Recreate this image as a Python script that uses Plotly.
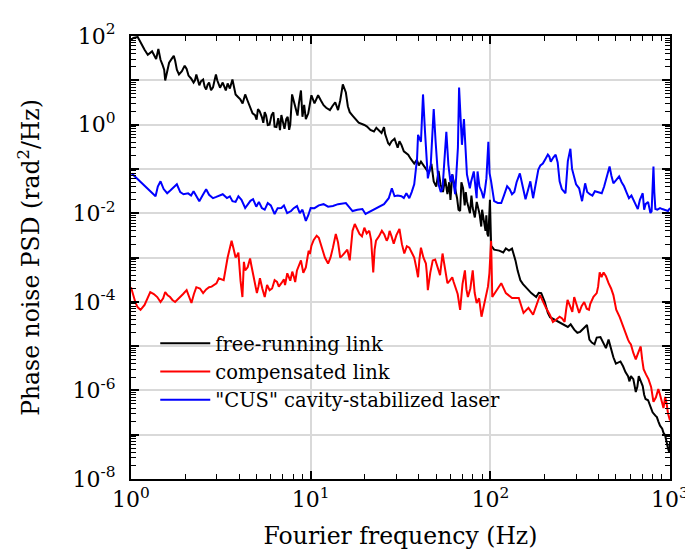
import plotly.graph_objects as go

# ---------------- data ----------------
# free-running link (main trace points + extra noise detail points)
free_f = [1.0, 1.09, 1.19, 1.24, 1.28, 1.35, 1.42, 1.46, 1.53, 1.55, 1.63, 1.73, 1.80, 1.85, 1.99,
          2.09, 2.23, 2.31, 2.40, 2.52, 2.62, 2.72, 2.86, 2.97, 3.08, 3.24, 3.37, 3.67, 3.82, 4.06,
          4.32, 4.60, 4.90, 5.09, 5.35, 5.55, 5.77, 6.06, 6.45, 6.87, 7.31, 7.59, 7.88, 8.28, 8.83,
          9.40, 10.0, 10.1, 11.0, 11.8, 12.8, 13.7, 14.2, 15.1, 15.7, 16.5, 17.8, 19.9, 21.5, 24.0,
          25.6, 26.5, 27.5, 29.3, 32.0, 34.9, 37.7, 41.1, 43.8, 48.4, 52.8, 57.7, 61.4, 65.3, 67.9,
          70.5, 74.1, 79.8, 87.1, 92.7, 96.3, 98.8, 101, 112, 127, 132, 138, 147, 159, 169,
          180, 192, 201, 209, 229, 259, 293, 316, 345, 367, 391, 427, 455, 484, 515,
          548, 584, 606, 645, 670, 705, 731, 778, 829, 861, 905, 940, 975, 1000]
free_psd = [81, 95, 48.7, 37.7, 41.8, 35.8, 51, 29.1, 17.4, 9.9, 25, 35.8, 17.4, 13.5, 21.4,
            12.8, 8.9, 13.5, 7.7, 10.4, 6.2, 8.9, 6.9, 13.5, 7.7, 8.9, 5.9, 10.4, 4.8, 3.7,
            4.8, 2.5, 1.64, 2.23, 1.48, 1.91, 0.98, 1.64, 0.88, 1.64, 1.33, 0.76, 4.8, 2.23, 5.9,
            1.33, 3.7, 4.6, 4.6, 2.74, 2.12, 3.19, 2.12, 8.05, 5.3, 1.91, 1.33, 0.98, 0.76, 0.76,
            0.88, 0.48, 0.35, 0.48, 0.35, 0.21, 0.132, 0.146, 0.102, 0.052, 0.045, 0.027, 0.075, 0.0218, 0.0112,
            0.0365, 0.0187, 0.0131, 0.0096, 0.0057, 0.0034, 0.0145, 0.00185, 0.00143, 0.00143, 0.00159, 0.00086, 3.07e-4, 2.03e-4, 1.57e-4,
            1.28e-4, 1.57e-4, 9.9e-5, 5.6e-5, 3.9e-5, 3.0e-5, 2.35e-5, 2.1e-5, 3.0e-5, 1.2e-5, 1.56e-5, 1.2e-5, 1.4e-5, 5.6e-6, 4.3e-6,
            3.5e-6, 2.1e-6, 2.1e-6, 9.2e-7, 2.1e-6, 1.25e-6, 6.4e-7, 4.3e-7, 2.7e-7, 2.0e-7, 1.37e-7, 9.6e-8, 4.9e-8, 7.0e-8]
free_detail_f = [1.03, 1.15, 1.31, 1.38, 1.50, 1.68, 1.76, 1.92, 2.04, 2.16, 2.27, 2.45, 2.57, 2.67, 2.79,
                 2.91, 3.02, 3.13, 3.30, 3.45, 3.55, 3.75, 3.94, 4.18, 4.45, 4.75, 5.0, 5.2, 5.45, 5.65,
                 5.90, 6.2, 6.3, 6.6, 6.75, 7.0, 7.15, 7.45, 7.7, 8.05, 8.45, 8.6, 9.0, 9.2, 9.7,
                 10.5, 11.4, 12.2, 13.2, 14.6, 16.1, 17.1, 18.5, 20.6, 22.5, 23.2, 24.8, 26.0, 27.0, 28.2,
                 30.5, 31.2, 33.0, 36.0, 39.0, 40.0, 45.5, 47, 50, 51.5, 54.5, 56, 59, 60, 63,
                 66.5, 69, 72, 73, 77, 78.5, 82, 84, 89, 90, 94, 95, 97.5, 99.5,
                 105, 118, 122, 142, 152, 164, 175, 186, 215, 240, 270, 280, 305, 330, 356,
                 380, 410, 440, 470, 500, 530, 565, 595, 625, 658, 690, 718, 755, 800, 845,
                 880, 920, 958, 990]
free_detail_psd = [90, 60, 45, 30, 22, 30, 28, 16, 18, 11, 10, 9.5, 7.2, 8.0, 6.0,
                   9.5, 10, 6.8, 7.0, 8.5, 6.5, 7.0, 4.2, 3.0, 3.5, 1.8, 1.3, 2.0, 1.1, 1.6,
                   1.0, 1.9, 0.9, 1.4, 0.75, 1.1, 0.8, 1.5, 1.0, 3.5, 1.6, 3.0, 1.5, 2.8, 1.8,
                   3.0, 3.5, 2.4, 2.6, 3.5, 2.6, 1.6, 1.1, 0.9, 0.7, 0.85, 0.65, 0.6, 0.38, 0.42,
                   0.3, 0.42, 0.25, 0.17, 0.16, 0.12, 0.08, 0.13, 0.04, 0.09, 0.03, 0.06, 0.05, 0.02, 0.045,
                   0.012, 0.05, 0.015, 0.03, 0.01, 0.025, 0.008, 0.018, 0.005, 0.012, 0.004, 0.009, 0.003, 0.02,
                   0.0015, 0.0013, 0.0016, 5e-4, 2.5e-4, 1.8e-4, 1.4e-4, 1.6e-4, 4.5e-5, 3.5e-5, 2.7e-5, 3.1e-5, 2.0e-5, 2.5e-5, 1.4e-5,
                   1.1e-5, 1.6e-5, 9e-6, 8e-6, 4e-6, 4.5e-6, 2.6e-6, 1.6e-6, 1.8e-6, 1.2e-6, 1.6e-6, 8e-7, 6e-7, 3.2e-7, 2.5e-7,
                   1.6e-7, 1.1e-7, 6e-8, 4e-8]

# compensated link
comp_f = [1.0, 1.06, 1.13, 1.19, 1.28, 1.40, 1.46, 1.55, 1.65, 1.76, 1.87, 2.04, 2.17, 2.31, 2.52,
          2.72, 2.90, 3.08, 3.28, 3.45, 3.63, 3.82, 3.96, 4.17, 4.32, 4.60, 4.78, 5.02, 5.22, 5.55,
          5.91, 6.30, 6.87, 7.41, 8.08, 8.39, 8.83, 9.40, 9.75, 10.1, 10.8, 11.5, 12.5, 13.3, 13.8,
          14.6, 15.5, 16.5, 17.6, 18.7, 19.9, 21.2, 22.3, 23.1, 24.9, 26.5, 27.5, 29.0, 31.2, 33.2,
          35.4, 37.7, 39.6, 41.1, 43.8, 44.9, 47.8, 50.9, 54.2, 57.7, 61.4, 63.7, 67.9, 72.2, 75.0,
          79.8, 83.9, 89.3, 95.1, 98.8, 101, 102.5, 108, 115, 122, 132, 144, 153, 163, 173,
          189, 204, 223, 243, 259, 269, 286, 293, 312, 333, 354, 367, 391, 406, 427,
          455, 484, 502, 548, 584, 606, 645, 687, 713, 759, 809, 861, 905, 940, 975, 1000]
comp_psd = [2.14e-4, 9.4e-5, 6.6e-5, 8.5e-5, 1.66e-4, 1.28e-4, 9.9e-5, 1.66e-4, 1.28e-4, 9.9e-5, 1.28e-4, 1.83e-4, 9.4e-5, 2.14e-4, 1.57e-4,
            2.14e-4, 2.37e-4, 3.4e-4, 3.07e-4, 1.0e-3, 2.39e-3, 1.0e-3, 1.29e-3, 1.28e-4, 5.1e-4, 9.5e-4, 4.4e-4, 1.57e-4, 3.4e-4, 1.28e-4,
            1.83e-4, 3.07e-4, 2.63e-4, 4.4e-4, 3.58e-4, 5.1e-4, 8.6e-4, 6.0e-4, 1.43e-3, 1.85e-3, 3.1e-3, 1.67e-3, 7.3e-4, 1.67e-3, 3.4e-3,
            1.0e-3, 1.29e-3, 8.6e-4, 5.7e-3, 3.4e-3, 4.7e-3, 4.0e-3, 4.6e-4, 2.39e-3, 4.0e-3, 2.39e-3, 4.0e-3, 2.05e-3, 4.4e-3, 1.23e-3,
            1.67e-3, 1.0e-3, 3.58e-4, 1.67e-3, 7.3e-4, 1.83e-4, 8.6e-4, 6.0e-4, 1.23e-3, 2.63e-4, 3.58e-4, 2.14e-4, 6.6e-5, 5.1e-4, 1.28e-4,
            5.1e-4, 9.4e-5, 4.6e-5, 1.28e-4, 4.4e-4, 2.39e-3, 1.28e-4, 1.83e-4, 2.63e-4, 1.57e-4, 1.22e-4, 1.22e-4, 5.6e-5, 7.3e-5, 5.1e-5,
            1.42e-4, 7.3e-5, 3.5e-5, 4.6e-5, 3.5e-5, 1.1e-4, 5.9e-5, 1.28e-4, 5.6e-5, 9.9e-5, 6.6e-5, 1.1e-4, 1.57e-4, 4.6e-4, 4.6e-4,
            2.63e-4, 1.42e-4, 6.6e-5, 2.74e-5, 1.4e-5, 1.09e-5, 5.0e-6, 9.8e-6, 3.0e-6, 1.8e-6, 5.5e-7, 1.07e-6, 5.5e-7, 7.1e-7, 3.0e-7, 2.1e-7]
comp_detail_f = [1.09, 1.23, 1.34, 1.51, 1.60, 1.70, 1.81, 1.95, 2.10, 2.24, 2.42, 2.62, 2.81, 2.99, 3.18,
                 3.55, 3.72, 3.89, 4.07, 4.25, 4.46, 4.68, 4.90, 5.12, 5.38, 5.72, 6.1, 6.5, 6.65, 7.1,
                 7.2, 7.7, 7.9, 8.2, 8.6, 9.1, 9.6, 9.9,
                 10.4, 11.1, 12.0, 12.9, 14.2, 15.0, 16.0, 17.1, 18.1, 19.3, 20.5, 21.7, 22.7, 24.0, 25.7,
                 27.0, 28.2, 30.0, 32.2, 34.3, 36.5, 38.7, 40.3, 42.4, 44.3, 46.3, 49.3, 52.5, 55.9, 59.5,
                 62.5, 65.8, 70.0, 73.6, 77.4, 81.8, 86.6, 92.0, 97.0, 99.7,
                 196, 214, 233, 251, 264, 278, 300, 322, 344, 360, 375, 398, 416, 440, 470, 493,
                 525, 565, 595, 625, 665, 700, 735, 785, 835, 880, 920, 958, 990]
comp_detail_psd = [7.5e-5, 1.2e-4, 1.5e-4, 1.2e-4, 1.4e-4, 1.1e-4, 1.1e-4, 1.5e-4, 1.3e-4, 1.5e-4, 2.0e-4, 1.9e-4, 2.2e-4, 2.6e-4, 3.2e-4,
                   1.8e-3, 1.6e-3, 1.1e-3, 3.0e-4, 8e-4, 6e-4, 6.5e-4, 2.5e-4, 2.2e-4, 2.0e-4, 2.4e-4, 2.0e-4, 2.8e-4, 2.2e-4, 3.2e-4,
                   2.4e-4, 3.0e-4, 4.8e-4, 2.8e-4, 6.5e-4, 4.5e-4, 1.0e-3, 1.2e-3,
                   2.5e-3, 2.8e-3, 1.0e-3, 1.0e-3, 2.2e-3, 1.1e-3, 1.5e-3, 4.0e-3, 4.5e-3, 3.0e-3, 3.5e-3, 2.5e-3, 1.5e-3, 3.0e-3, 3.3e-3,
                   2.8e-3, 3.0e-3, 3.2e-3, 2.0e-3, 1.8e-3, 1.3e-3, 6e-4, 9e-4, 1.0e-3, 4.5e-4, 4.5e-4, 9e-4, 4e-4, 6e-4, 3.0e-4,
                   2.8e-4, 1.5e-4, 2.5e-4, 1.9e-4, 2.0e-4, 1.6e-4, 1.2e-4, 8e-5, 2.2e-4, 8e-4,
                   1.0e-4, 5.2e-5, 4.0e-5, 4.2e-5, 6.5e-5, 8.0e-5, 9e-5, 8e-5, 7e-5, 9e-5, 1.3e-4, 2.2e-4, 3.6e-4, 3.8e-4, 2.0e-4, 9e-5,
                   4.5e-5, 2.0e-5, 1.2e-5, 7e-6, 7e-6, 5e-6, 2.3e-6, 1.2e-6, 7e-7, 8e-7, 4e-7, 5e-7, 2.5e-7]

# "CUS" cavity-stabilized laser
cus_f = [1.01, 1.13, 1.28, 1.37, 1.46, 1.59, 1.80, 1.96, 2.23, 2.40, 2.62, 2.86, 3.24, 3.67, 3.96,
         4.32, 4.78, 5.35, 5.77, 6.30, 6.87, 7.78, 8.39, 9.40, 10.0, 11.8, 13.3, 15.7, 17.1, 19.4,
         20.2, 22.9, 25.6, 27.2, 28.3, 29.3, 32.0, 34.1, 35.4, 37.7, 39.1, 39.6, 41.1, 42.2, 43.3,
         44.9, 46.6, 48.4, 49.6, 51.5, 54.2, 56.9, 58.4, 61.4, 63.7, 67.0, 69.5, 71.3, 74.1, 76.9,
         80.9, 83.9, 84.9, 89.3, 91.6, 95.1, 97.5, 101, 105, 115, 124, 132, 146, 157, 167,
         173, 185, 196, 209, 217, 231, 243, 262, 279, 293, 312, 324, 337, 358, 382,
         417, 444, 461, 484, 521, 555, 591, 630, 662, 705, 731, 778, 809, 829, 905, 975, 1000]
cus_psd = [0.0789, 0.0524, 0.0313, 0.0242, 0.0524, 0.0282, 0.0449, 0.0268, 0.0313, 0.0187, 0.0347, 0.0218, 0.0268, 0.0187, 0.0242,
           0.0131, 0.0207, 0.0131, 0.0169, 0.0096, 0.0131, 0.0112, 0.0145, 0.0067, 0.0131, 0.016, 0.0145, 0.0169, 0.0112, 0.0124,
           0.0096, 0.0131, 0.016, 0.0218, 0.0365, 0.0242, 0.0242, 0.0282, 0.0218, 0.0449, 0.171, 0.586, 0.409, 4.8, 0.684,
           0.061, 0.125, 2.23, 0.409, 0.0449, 0.0365, 0.684, 0.125, 0.075, 0.0268, 6.9, 0.35, 1.33, 0.075, 0.0365,
           0.0875, 0.0218, 0.0875, 0.0313, 0.0218, 0.061, 0.409, 0.0524, 0.0187, 0.0169, 0.0405, 0.0268, 0.0789, 0.0207, 0.0524,
           0.0218, 0.097, 0.132, 0.21, 0.146, 0.21, 0.0524, 0.0282, 0.285, 0.061, 0.0365, 0.0187, 0.0472, 0.0268, 0.0313,
           0.0282, 0.061, 0.113, 0.0472, 0.0676, 0.0405, 0.0218, 0.0187, 0.0124, 0.0282, 0.016, 0.0101, 0.113, 0.0124, 0.0124, 0.0112, 0.0131]
cus_detail_f = [1.06, 1.20, 1.32, 1.41, 1.52, 1.66, 1.73, 1.88, 2.08, 2.16, 2.31, 2.50, 2.72, 2.96, 3.08,
                3.42, 3.55, 3.82, 4.12, 4.5, 4.62, 4.98, 5.15, 5.55, 6.0, 6.55, 7.1, 7.4, 8.05, 8.7,
                9.0, 9.7, 10.5, 11.1, 12.5, 14.2, 16.3, 18.2, 21.5, 24.0, 30.5, 33.0, 36.5,
                53, 60, 66, 78, 87, 93, 99,
                110, 119, 128, 136, 140, 150, 161, 178, 190, 203, 213, 224, 237, 250, 270,
                285, 300, 318, 346, 370, 400, 430, 452, 472, 500, 538, 572, 610, 645, 680,
                718, 755, 790, 818, 850, 880, 940]
cus_detail_psd = [0.065, 0.04, 0.028, 0.04, 0.035, 0.033, 0.038, 0.03, 0.028, 0.025, 0.024, 0.025, 0.026, 0.023, 0.025,
                  0.022, 0.024, 0.018, 0.02, 0.016, 0.019, 0.014, 0.018, 0.012, 0.015, 0.013, 0.015, 0.01, 0.013, 0.01,
                  0.012, 0.009, 0.013, 0.015, 0.014, 0.016, 0.014, 0.012, 0.011, 0.014, 0.025, 0.022, 0.03,
                  0.03, 0.05, 0.3, 0.05, 0.04, 0.03, 0.08,
                  0.017, 0.025, 0.035, 0.03, 0.05, 0.05, 0.03, 0.04, 0.12, 0.17, 0.19, 0.18, 0.14, 0.035, 0.15,
                  0.1, 0.045, 0.025, 0.03, 0.025, 0.03, 0.04, 0.08, 0.07, 0.055, 0.05, 0.03, 0.025, 0.016, 0.02,
                  0.012, 0.018, 0.011, 0.03, 0.012, 0.013, 0.012]

series_names = ["free-running link", "compensated link", "\"CUS\" cavity-stabilized laser"]
series_colors = ["#000000", "#ff0000", "#0000ff"]

y_tick_vals = [1e2, 1e1, 1e0, 1e-1, 1e-2, 1e-3, 1e-4, 1e-5, 1e-6, 1e-7, 1e-8]
y_tick_text = ["10<sup>2</sup>", "", "10<sup>0</sup>", "", "10<sup>-2</sup>", "", "10<sup>-4</sup>", "",
               "10<sup>-6</sup>", "", "10<sup>-8</sup>"]
x_tick_vals = [1, 10, 100, 1000]
x_tick_text = ["10<sup>0</sup>", "10<sup>1</sup>", "10<sup>2</sup>", "10<sup>3</sup>"]
x_minor_vals = [m * d for d in (1, 10, 100) for m in range(2, 10)]
y_minor_vals = [m * 10.0 ** e for e in range(-8, 2) for m in range(2, 10)]


def merged(f_main, v_main, f_extra, v_extra):
    pairs = sorted(zip(f_main + f_extra, v_main + v_extra))
    return [p[0] for p in pairs], [p[1] for p in pairs]


# ---------------- figure ----------------
FONT = "DejaVu Serif"
fig = go.Figure()
for (xs, ys), name, col in [(merged(free_f, free_psd, free_detail_f, free_detail_psd), series_names[0], series_colors[0]),
                            (merged(comp_f, comp_psd, comp_detail_f, comp_detail_psd), series_names[1], series_colors[1]),
                            (merged(cus_f, cus_psd, cus_detail_f, cus_detail_psd), series_names[2], series_colors[2])]:
    fig.add_trace(go.Scatter(x=xs, y=ys, mode="lines", name=name,
                             line=dict(color=col, width=2)))

# empty helper trace so the minor-tick overlay axes exist
fig.add_trace(go.Scatter(x=[], y=[], xaxis="x2", yaxis="y2", showlegend=False, hoverinfo="skip"))

axis_common = dict(
    type="log", showline=True, linecolor="black", linewidth=2, mirror="ticks",
    ticks="inside", ticklen=8, tickwidth=1.5, tickcolor="black",
    showgrid=True, gridcolor="#d9d9d9", gridwidth=1.5, zeroline=False,
    ticklabeloverflow="allow",
    tickfont=dict(family=FONT, size=22, color="black"),
)
minor_axis = dict(type="log", showline=False, showgrid=False, zeroline=False, showticklabels=False,
                  ticks="inside", ticklen=5, tickwidth=1.2, tickcolor="black", mirror="ticks",
                  ticktext=None)

fig.update_layout(
    width=693, height=554,
    margin=dict(l=123, r=18, t=23, b=83),
    plot_bgcolor="white", paper_bgcolor="white",
    font=dict(family=FONT, color="black"),
    xaxis=dict(range=[0, 3], tickvals=x_tick_vals, ticktext=x_tick_text,
               title=dict(text="Fourier frequency (Hz)", font=dict(family=FONT, size=23.5, color="black"), standoff=16),
               **axis_common),
    yaxis=dict(range=[-8, 2], tickvals=y_tick_vals, ticktext=y_tick_text, ticklabelstandoff=9,
               title=dict(text="Phase noise PSD (rad<sup>2</sup>/Hz)", font=dict(family=FONT, size=23.5, color="black"), standoff=26),
               **axis_common),
    xaxis2=dict(overlaying="x", anchor="y2", side="bottom", range=[0, 3], tickmode="array",
                tickvals=x_minor_vals, **{k: v for k, v in minor_axis.items() if k != "ticktext"}),
    yaxis2=dict(overlaying="y", anchor="x2", side="left", range=[-8, 2], tickmode="array",
                tickvals=y_minor_vals, **{k: v for k, v in minor_axis.items() if k != "ticktext"}),
    legend=dict(x=0.045, y=0.35, xanchor="left", yanchor="top",
                bgcolor="rgba(0,0,0,0)", borderwidth=0,
                font=dict(family=FONT, size=19.5, color="black"),
                itemwidth=50, tracegroupgap=0),
    showlegend=True,
)

fig.write_html("out.html")
